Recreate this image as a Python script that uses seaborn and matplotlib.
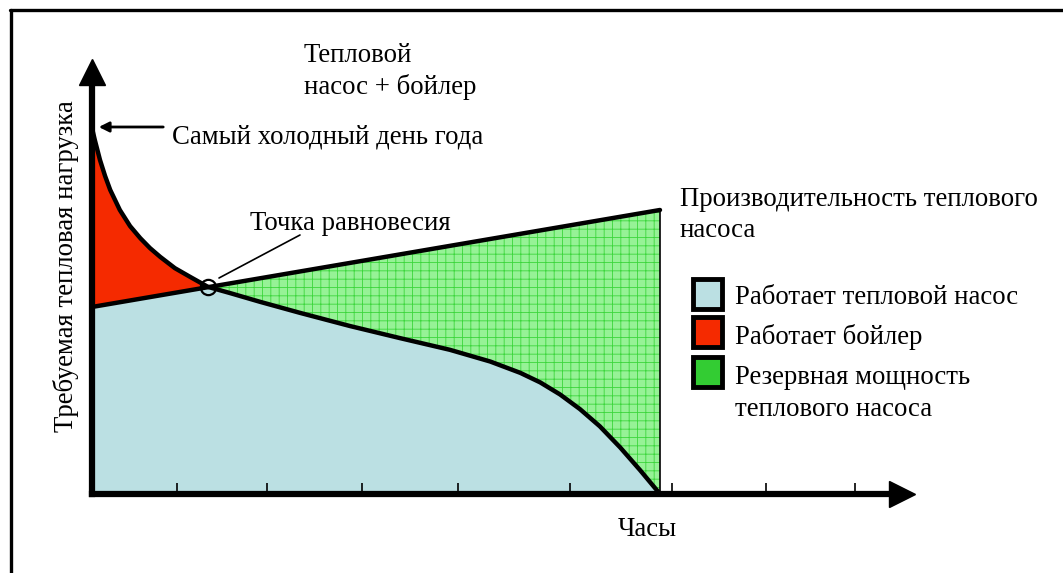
import numpy as np
import seaborn as sns
import matplotlib.pyplot as plt
from matplotlib.patches import Rectangle
from matplotlib.lines import Line2D

# Load duration curve (share of year, % of max load)
hours_pct = [0, 0.5, 1.4, 2.3, 3.2, 4.9, 6.7, 8.5, 10.2, 12.0, 14.6, 17.3, 20.4,
             24.3, 29.6, 36.6, 45.4, 54.2, 63.0, 70.1, 75.4, 78.9, 82.4, 85.9,
             89.4, 93.0, 96.5, 100]
load = [100, 96.7, 91.3, 86.9, 83.1, 77.6, 73.2, 69.9, 67.2, 64.8, 61.7, 59.3, 56.6,
        54.9, 52.5, 49.5, 45.9, 42.6, 39.4, 36.2, 33.1, 30.5, 27.2, 23.2,
        18.5, 12.7, 6.5, 0]

# Heat pump capacity line
hp_x = [0, 100]
hp_y = [51.1, 77.6]

# Balance point
balance_x = 20.4
balance_y = 56.6

tick_pos = [15.0, 30.8, 47.5, 64.4, 84.2, 102.1, 118.7, 134.3]

legend_labels = ['Работает тепловой насос', 'Работает бойлер', 'Резервная мощность']
legend_colors = ['#BBE0E3', '#F52A00', '#33CC33']

sns.set_style('white')
plt.rcParams['font.family'] = ['Liberation Serif', 'DejaVu Serif']
plt.rcParams['text.color'] = 'black'
plt.rcParams['hatch.linewidth'] = 0.6

W, H = 1063, 573
fig = plt.figure(figsize=(W / 100, H / 100), dpi=100)

# axes placed in pixels: origin (92,494), right 902, top 72
ax = fig.add_axes([92 / W, (H - 494) / H, (902 - 92) / W, (494 - 72) / H])
ax.set_xlim(0, (902 - 92) / 5.68)
ax.set_ylim(0, (494 - 72) / 3.66)
ax.set_axisbelow(False)

x = np.array(hours_pct)
y = np.array(load)

# reserve capacity (green) under heat pump line
green = ax.fill_between(hp_x, 0, hp_y, facecolor='#96F296', edgecolor='#3CD63C',
                        hatch='++', linewidth=0, zorder=1)
# boiler (red) under load curve
ax.fill_between(x, 0, y, color='#F52A00', linewidth=0, zorder=1.1)
# heat pump works (blue): under load curve, clipped to heat pump polygon
blue = ax.fill_between(x, 0, y, color='#BBE0E3', linewidth=0, zorder=1.2)
blue.set_clip_path(green.get_paths()[0], ax.transData)

sns.lineplot(x=hours_pct, y=load, ax=ax, color='black', linewidth=3.2, zorder=3,
             solid_joinstyle='round', solid_capstyle='round')
sns.lineplot(x=hp_x, y=hp_y, ax=ax, color='black', linewidth=3.2, zorder=3,
             solid_capstyle='round')
ax.plot([hp_x[1], hp_x[1]], [0, hp_y[1]], color='black', linewidth=1.2, zorder=3)
ax.plot([balance_x], [balance_y], marker='o', ms=11, mfc='none', mec='black',
        mew=1.6, zorder=4)

# axes with arrows
for side in ['top', 'right']:
    ax.spines[side].set_visible(False)
for side in ['left', 'bottom']:
    ax.spines[side].set_linewidth(4.5)
    ax.spines[side].set_color('black')
    ax.spines[side].set_zorder(5)
ax.plot([0], [1], marker='^', ms=18.5, color='black', transform=ax.transAxes,
        clip_on=False, zorder=6)
ax.plot([1], [0], marker='>', ms=18.5, color='black', transform=ax.transAxes,
        clip_on=False, zorder=6)
ax.set_xticks(tick_pos)
ax.set_xticklabels([])
ax.set_yticks([])
ax.tick_params(axis='x', direction='in', length=8, width=1.2, color='black',
               bottom=True)
ax.set_xlabel('')
ax.set_ylabel('')


def px(xp, yp):
    return xp / W, 1 - yp / H


fs = 19.3
fig.text(*px(66, 266), 'Требуемая тепловая нагрузка', rotation=90, fontsize=fs,
         ha='center', va='center')
fig.text(*px(647, 529), 'Часы', fontsize=fs, ha='center', va='center')
fig.text(*px(304, 72), 'Тепловой\nнасос + бойлер', fontsize=fs, ha='left',
         va='center', linespacing=1.3)
fig.text(*px(172, 137), 'Самый холодный день года', fontsize=fs, ha='left',
         va='center')
fig.text(*px(250, 224), 'Точка равновесия', fontsize=fs, ha='left', va='center')
fig.text(*px(680, 215), 'Производительность теплового\nнасоса', fontsize=fs,
         ha='left', va='center', linespacing=1.3)

# arrow to the coldest day
ax.annotate('', xy=px(96, 127), xytext=px(166, 127), xycoords='figure fraction',
            textcoords='figure fraction',
            arrowprops=dict(arrowstyle='-|>', lw=2, color='black', mutation_scale=15))
# leader line to the balance point
fig.add_artist(Line2D([px(219, 278)[0], px(300, 235)[0]],
                      [px(219, 278)[1], px(300, 235)[1]], color='black', lw=1.2))

# legend
box_y = [279, 317, 357]
text_y = [298, 337, 378]
for by, ty, lab, col in zip(box_y, text_y, legend_labels, legend_colors):
    x0, y0 = px(693, by + 30)
    fig.add_artist(Rectangle((x0, y0), 29 / W, 30 / H, transform=fig.transFigure,
                             facecolor=col, edgecolor='black', linewidth=3.5))
    fig.text(*px(735, ty), lab, fontsize=fs, ha='left', va='center')
fig.text(*px(735, 409), 'теплового насоса', fontsize=fs, ha='left', va='center')

# outer frame (top and left edges)
fig.add_artist(Line2D([10 / W, 1.0], [1 - 9.5 / H, 1 - 9.5 / H], color='black', lw=2.4))
fig.add_artist(Line2D([11 / W, 11 / W], [0, 1 - 9.5 / H], color='black', lw=2.4))

fig.savefig('out.png', dpi=100)
